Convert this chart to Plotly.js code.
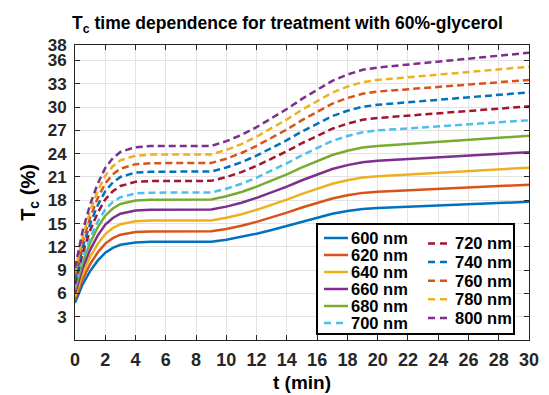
<!DOCTYPE html>
<html><head><meta charset="utf-8">
<script src="https://cdn.plot.ly/plotly-3.0.1.min.js"></script>
<style>html,body{margin:0;padding:0;background:#fff;}#chart{width:549px;height:395px;}</style>
</head><body><div id="chart"></div>
<script>
const time = [0,0.5,1,1.5,2,2.5,3,4,5,6,7,8,9,10,11,12,13,14,15,16,17,18,19,20,21,22,23,24,25,26,27,28,29,30];
const seriesNames = ['600 nm','620 nm','640 nm','660 nm','680 nm','700 nm','720 nm','740 nm','760 nm','780 nm','800 nm'];
const tc600 = [4.8,7.16,8.88,10.22,11.24,11.87,12.26,12.57,12.64,12.66,12.66,12.65,12.66,12.91,13.26,13.69,14.17,14.69,15.26,15.78,16.26,16.61,16.87,17.0,17.08,17.16,17.22,17.3,17.37,17.44,17.52,17.61,17.7,17.8];
const tc620 = [5.2,7.84,9.78,11.27,12.42,13.12,13.56,13.91,13.98,14.0,14.01,14.0,14.0,14.31,14.71,15.22,15.79,16.40,17.06,17.67,18.23,18.64,18.95,19.1,19.19,19.28,19.35,19.43,19.51,19.6,19.69,19.78,19.89,20.0];
const tc640 = [5.6,8.54,10.7,12.36,13.64,14.42,14.91,15.3,15.38,15.4,15.41,15.4,15.4,15.74,16.2,16.77,17.4,18.08,18.82,19.5,20.13,20.59,20.93,21.1,21.21,21.32,21.41,21.51,21.61,21.71,21.82,21.94,22.07,22.2];
const tc660 = [6.0,9.24,11.62,13.45,14.86,15.72,16.26,16.69,16.78,16.8,16.81,16.8,16.8,17.18,17.68,18.31,19.01,19.76,20.58,21.34,22.03,22.53,22.91,23.1,23.21,23.32,23.41,23.51,23.61,23.71,23.82,23.94,24.07,24.2];
const tc680 = [6.5,9.98,12.53,14.5,16.01,16.94,17.52,17.98,18.08,18.1,18.11,18.1,18.1,18.51,19.07,19.76,20.52,21.34,22.24,23.07,23.83,24.38,24.79,25.0,25.13,25.26,25.36,25.48,25.6,25.72,25.85,25.99,26.14,26.3];
const tc700 = [6.8,10.46,13.14,15.22,16.8,17.78,18.39,18.88,18.98,19.0,19.01,19.0,19.0,19.48,20.12,20.92,21.8,22.76,23.8,24.76,25.64,26.28,26.76,27.0,27.13,27.26,27.36,27.48,27.6,27.72,27.85,27.99,28.14,28.3];
const tc720 = [7.2,11.19,14.12,16.38,18.11,19.17,19.84,20.37,20.48,20.5,20.51,20.5,20.5,20.99,21.63,22.44,23.34,24.31,25.36,26.33,27.22,27.87,28.36,28.6,28.75,28.9,29.02,29.16,29.29,29.43,29.58,29.74,29.92,30.1];
const tc740 = [7.7,11.9,14.98,17.36,19.18,20.3,21.0,21.56,21.68,21.7,21.71,21.7,21.7,22.22,22.9,23.76,24.71,25.74,26.86,27.89,28.84,29.53,30.04,30.3,30.46,30.62,30.75,30.89,31.04,31.18,31.34,31.52,31.71,31.9];
const tc760 = [8.2,12.58,15.79,18.27,20.17,21.34,22.07,22.65,22.78,22.8,22.81,22.8,22.8,23.35,24.09,25.01,26.02,27.12,28.32,29.42,30.44,31.17,31.72,32.0,32.15,32.3,32.42,32.56,32.69,32.83,32.98,33.14,33.32,33.5];
const tc780 = [8.7,13.26,16.6,19.19,21.16,22.38,23.14,23.75,23.88,23.9,23.91,23.9,23.9,24.48,25.24,26.2,27.26,28.41,29.66,30.81,31.87,32.64,33.21,33.5,33.67,33.84,33.98,34.13,34.28,34.44,34.61,34.79,35.0,35.2];
const tc800 = [9.3,14.01,17.46,20.13,22.17,23.43,24.22,24.84,24.98,25.0,25.01,25.0,25.0,25.61,26.41,27.42,28.54,29.75,31.06,32.27,33.38,34.19,34.8,35.1,35.29,35.48,35.63,35.8,35.97,36.15,36.34,36.54,36.77,37.0];
const xTickVals = [0,2,4,6,8,10,12,14,16,18,20,22,24,26,28,30];
const yTickVals = [3,6,9,12,15,18,21,24,27,30,33,36,38];

const seriesValues = [tc600,tc620,tc640,tc660,tc680,tc700,tc720,tc740,tc760,tc780,tc800];
const colors = ['#0072BD','#D95319','#EDB120','#7E2F8E','#77AC30','#4DBEEE','#A2142F','#0072BD','#D95319','#EDB120','#7E2F8E'];
const dashed = [false,false,false,false,false,true,true,true,true,true,true];

const FONT = 'Liberation Sans, Arial, Helvetica, sans-serif';
const INK = '#262626';

const traces = seriesValues.map((vals, i) => ({
  x: time, y: vals, type: 'scatter', mode: 'lines', name: seriesNames[i],
  line: {color: colors[i], width: 2.5, dash: dashed[i] ? '7px,4px' : 'solid'},
  showlegend: false, hoverinfo: 'skip'
}));

// plot area geometry (px) for the hand-built two-column legend
const L = 75, R = 20, T = 45, B = 55, W = 549, H = 395;
const pw = W - L - R, ph = H - T - B;
const px2x = p => (p - L) / pw;
const px2y = p => (H - B - p) / ph;

const shapes = [{
  type: 'rect', xref: 'paper', yref: 'paper', layer: 'above',
  x0: px2x(317), x1: px2x(514), y0: px2y(334), y1: px2y(224),
  line: {color: '#000', width: 2}, fillcolor: '#fff'
}];
const annotations = [];
seriesNames.forEach((nm, i) => {
  const col = i < 6 ? 0 : 1;
  const row = col === 0 ? i : i - 6;
  const yy = col === 0 ? 238 + row * 17.0 : 243.5 + row * 18.6;
  const lx0 = col === 0 ? 324 : 428, lx1 = col === 0 ? 348 : 448, tx = col === 0 ? 349 : 453;
  shapes.push({type: 'line', xref: 'paper', yref: 'paper', layer: 'above',
    x0: px2x(lx0), x1: px2x(lx1), y0: px2y(yy), y1: px2y(yy),
    line: {color: colors[i], width: 2.5, dash: dashed[i] ? '7px,5px' : 'solid'}});
  annotations.push({xref: 'paper', yref: 'paper', x: px2x(tx), y: px2y(yy),
    xanchor: 'left', yanchor: 'middle', showarrow: false, text: nm,
    font: {family: FONT, size: 16.5, color: '#000', weight: 'bold'}});
});

const axisCommon = {
  showgrid: true, gridcolor: '#e3e3e3', gridwidth: 1,
  showline: true, linecolor: INK, linewidth: 1, mirror: 'ticks',
  ticks: 'inside', ticklen: 5, tickcolor: INK, tickwidth: 1,
  zeroline: false, fixedrange: true
};

const layout = {
  width: W, height: H,
  margin: {l: L, r: R, t: T, b: B, pad: 0},
  paper_bgcolor: '#fff', plot_bgcolor: '#fff',
  font: {family: FONT, color: INK},
  showlegend: false,
  title: {text: 'T<sub>c</sub> time dependence for treatment with 60%-glycerol',
    font: {family: FONT, size: 17.5, color: '#000', weight: 'bold'},
    xref: 'container', x: 287.5 / W, xanchor: 'center',
    yref: 'container', y: 1 - 23 / H, yanchor: 'middle'},
  xaxis: Object.assign({}, axisCommon, {
    range: [0, 30], tickmode: 'array', tickvals: xTickVals, ticktext: xTickVals.map(String),
    tickfont: {family: FONT, size: 18, color: INK, weight: 'bold'},
    ticklabelstandoff: 3,
    title: {text: 't (min)', font: {family: FONT, size: 19, color: '#000', weight: 'bold'}, standoff: 7}
  }),
  yaxis: Object.assign({}, axisCommon, {
    range: [0, 38], tickmode: 'array', tickvals: yTickVals, ticktext: yTickVals.map(String),
    tickfont: {family: FONT, size: 17, color: INK, weight: 'bold'},
    ticklabelstandoff: 4,
    title: {text: 'T<sub>c</sub> (%)', font: {family: FONT, size: 20, color: '#000', weight: 'bold'}, standoff: 6}
  }),
  shapes: shapes,
  annotations: annotations
};

Plotly.newPlot('chart', traces, layout, {staticPlot: true, displayModeBar: false});
</script>
</body></html>
